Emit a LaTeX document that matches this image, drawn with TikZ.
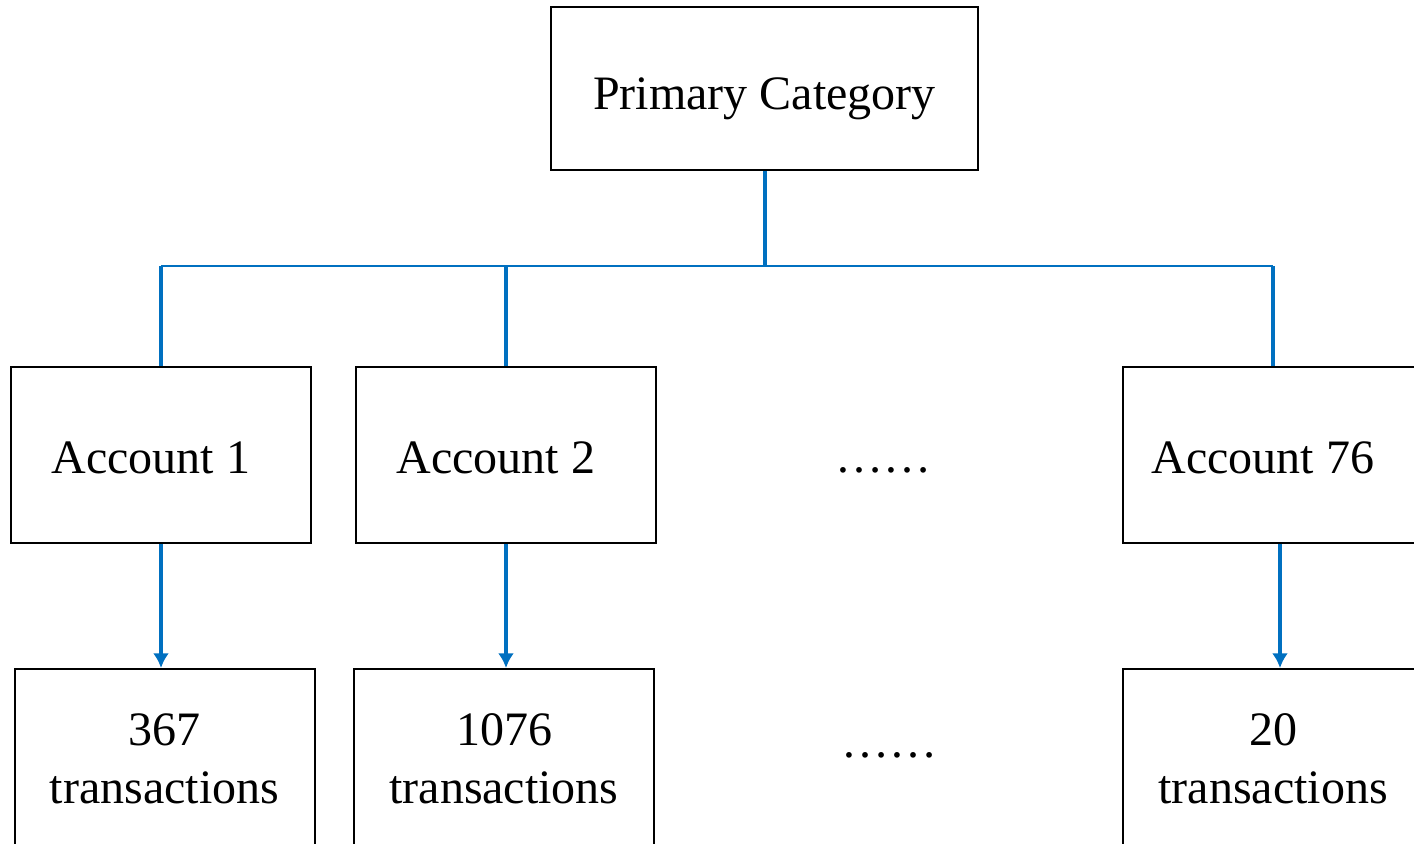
\documentclass[tikz,border=0pt]{standalone}
\usepackage{fontspec}
\setmainfont{Liberation Serif}
\usetikzlibrary{arrows.meta}
\definecolor{linkblue}{HTML}{0070C0}

\begin{document}
\begin{tikzpicture}[x=0.75pt,y=-0.75pt,>={Latex[length=11pt,width=12pt]},
  box/.style={draw,line width=1.5pt,inner sep=0pt,align=center,
    minimum width=225pt,minimum height=132pt,font=\fontsize{36}{43}\selectfont},
  acct/.style={box,text height=27pt,text depth=0pt,execute at end node={\hspace{15pt}}},
  trans/.style={box,anchor=north,minimum height=150pt,text height=67pt,text depth=16pt},
  gap/.style={font=\fontsize{36}{43}\selectfont},
  trunk/.style={linkblue,line width=3pt},
  bus/.style={linkblue,line width=1.5pt},
  link/.style={linkblue,line width=3pt,->}]
  \useasboundingbox (0,0) rectangle (1414,843);
  \clip (0,0) rectangle (1414,843);
  % Draw the category on top
  \node[box,minimum width=320pt,minimum height=122pt,text height=31.5pt,text depth=0pt] (top) at (764.5,88.5) {Primary Category};
  % Draw the account row
  \node[acct] (acc1) at (161,455) {Account 1};
  \node[acct] (acc2) at (506,455) {Account 2};
  \node[acct] (acc76) at (1273,455) {Account 76};
  \node[gap] (dotsA) at (883,470) {……};
  % Draw the transaction row
  \node[trans] (tr1) at (164.5,668) {367\\transactions};
  \node[trans] (tr2) at (504,668) {1076\\transactions};
  \node[trans] (tr76) at (1273,668) {20\\transactions};
  \node[gap] (dotsB) at (889,755) {……};
  % Draw the bus joining the accounts
  \coordinate (busL) at (161,266);
  \coordinate (busR) at (1273,266);
  \draw[bus] (busL) -- (busR);
  \draw[trunk] (top.south) -- (top.south |- busL);
  \draw[trunk] (acc1.north |- busL) -- (acc1.north);
  \draw[trunk] (acc2.north |- busL) -- (acc2.north);
  \draw[trunk] (busR) -- (acc76.north);
  % Draw the arrows down to the transactions
  \draw[link] (acc1.south) -- (acc1.south |- tr1.north);
  \draw[link] (acc2.south) -- (acc2.south |- tr2.north);
  \draw[link] ([xshift=5.25pt]acc76.south) -- ([xshift=5.25pt]acc76.south |- tr76.north);
\end{tikzpicture}
\end{document}
